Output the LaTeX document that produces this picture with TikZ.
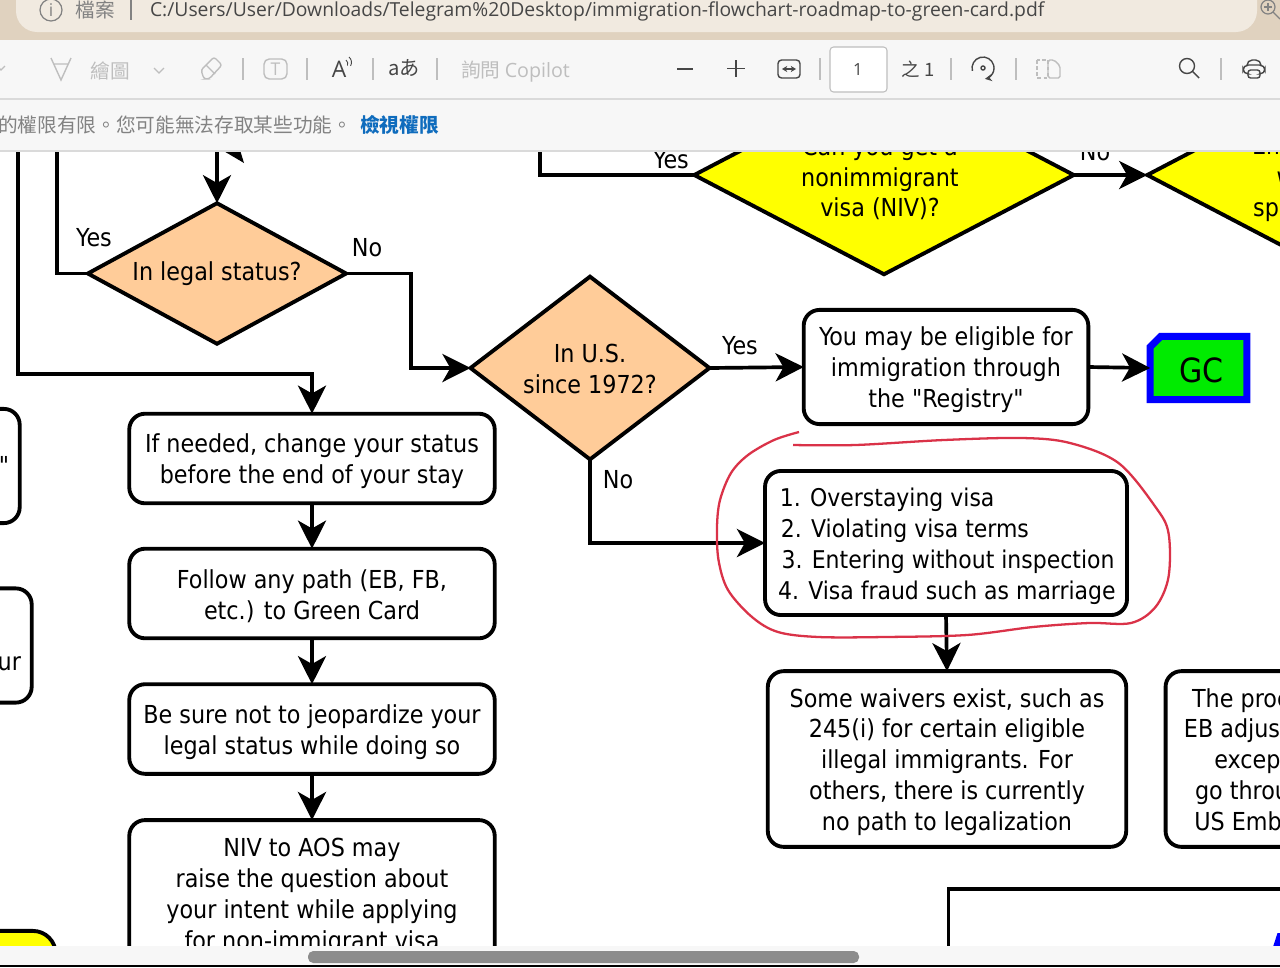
\documentclass[tikz,border=0pt]{standalone}
\usepackage{fontspec}
\setmainfont{DejaVu Sans Condensed}
\newfontfamily\uifont{Open Sans}
\newfontfamily\cjkfont{Noto Sans CJK TC}
\usetikzlibrary{shapes.geometric, shapes.misc, arrows.meta}
\definecolor{barbeige}{RGB}{224, 210, 191}
\definecolor{pillbeige}{RGB}{241, 234, 224}
\definecolor{uibar}{RGB}{247, 247, 247}
\definecolor{uiline}{RGB}{218, 218, 218}
\definecolor{uidark}{RGB}{70, 70, 70}
\definecolor{uifaint}{RGB}{190, 190, 190}
\definecolor{uimid}{RGB}{130, 130, 130}
\definecolor{linkblue}{RGB}{15, 108, 189}
\definecolor{thumbgray}{RGB}{140, 140, 140}
\definecolor{decisionorange}{RGB}{255, 204, 153}
\definecolor{choiceyellow}{RGB}{255, 255, 0}
\definecolor{penred}{RGB}{218, 50, 72}
\definecolor{cardgreen}{RGB}{0, 235, 0}
\newcommand{\boxdrop}{\rule{0pt}{14.2pt}}

\begin{document}
\begin{tikzpicture}[
  x=0.02cm, y=-0.02cm,
  font=\fontsize{14.1pt}{17.6pt}\selectfont,
  every node/.style={inner sep=0pt, outer sep=0pt},
  stepbox/.style={draw=black, fill=white, line width=2.2pt, rounded corners=9pt, align=center, minimum width=208pt, minimum height=51pt},
  orangechoice/.style={diamond, draw=black, fill=decisionorange, line width=2.2pt, align=center},
  yellowchoice/.style={diamond, draw=black, fill=choiceyellow, line width=2.2pt, shape aspect=1.9, minimum width=216pt, minimum height=113pt},
  flow/.style={line width=2.1pt, ->},
  flowplain/.style={line width=2.1pt},
  uisep/.style={line width=0.7pt, uifaint},
  uitext/.style={font=\uifont\fontsize{11pt}{14pt}\selectfont, text=uidark},
  cjktext/.style={font=\cjkfont\fontsize{11.2pt}{14pt}\selectfont, text=uimid},
  >={Stealth[length=16pt, width=16pt, inset=4.5pt]}
]
\clip (0,0) rectangle (1280,967);
\fill[white] (0,0) rectangle (1280,967);

\node[orangechoice, shape aspect=1.83, minimum width=147pt, minimum height=80pt] (legal) at (217,273.5) {In legal status?};
\node[orangechoice, shape aspect=1.3, minimum width=136pt, minimum height=104pt] (since) at (590,368) {\rule{0pt}{12pt}In U.S.\\since 1972?};
\node[yellowchoice] (visa) at (884,175) {};
\node[align=center] (visatext) at (880,178.5) {Can you get a\\nonimmigrant\\visa (NIV)?};
\node[yellowchoice] (sponsor) at (1337,175) {};
\node[align=center] (sponsortext) at (1327,178.5) {Employer will\\willing to\\sponsor you?};
\node[stepbox] (change) at (312,458.5) {\boxdrop If needed, change your status\\before the end of your stay};
\node[stepbox] (follow) at (312,593.5) {\boxdrop Follow any path (EB, FB,\\etc.) to Green Card};
\node[stepbox] (jeopardize) at (312,729) {\boxdrop Be sure not to jeopardize your\\legal status while doing so};
\node[stepbox, minimum height=83pt] (nivaos) at (312,893) {\boxdrop NIV to AOS may\\raise the question about\\your intent while applying\\for non-immigrant visa};
\node[stepbox, minimum width=162pt, minimum height=65pt] (registry) at (946,367) {\boxdrop You may be eligible for\\immigration through\\the \textquotedbl Registry\textquotedbl};
\node[stepbox, align=left, minimum width=206pt, minimum height=82pt, font=\fontsize{13.9pt}{17.6pt}\selectfont] (overstay) at (946,543) {\boxdrop\hspace{2pt}1. Overstaying visa\\\hspace{2.6pt}2. Violating visa terms\\\hspace{3pt}3. Entering without inspection\\\hspace{1pt}4. Visa fraud such as marriage};
\node[stepbox, minimum width=204pt, minimum height=100pt] (waivers) at (947,759) {\boxdrop Some waivers exist, such as\\245(i) for certain eligible\\illegal immigrants. For\\others, there is currently\\no path to legalization};
\node[stepbox, minimum width=128pt, minimum height=100pt] (process) at (1278,759) {\boxdrop The process for\\EB adjustment is\\except that\\go through the\\US Embassy or};
\node[chamfered rectangle, chamfered rectangle corners=north west, chamfered rectangle sep=3pt, draw=blue, fill=cardgreen, line width=4pt, minimum width=55pt, minimum height=36pt, font=\fontsize{19pt}{22pt}\selectfont] (gc) at (1198.5,368) {\rule{0pt}{17pt}\,GC};
\node[stepbox, minimum width=200pt, minimum height=65pt] (leftupper) at (-156,466) {};
\node[anchor=east] (leftuppertext) at (9,465) {\textquotedbl};
\node[stepbox, minimum width=200pt, minimum height=65pt] (leftlower) at (-144,645.5) {};
\node[anchor=east] (leftlowertext) at (21,664) {ur};
\node[stepbox, fill=choiceyellow, minimum width=200pt, minimum height=65pt, rounded corners=13pt] (leftyellow) at (-120,988) {};
\node[draw=black, fill=white, line width=2.2pt, minimum width=300pt, minimum height=120pt] (lowerpanel) at (1212,994) {};
\fill[blue] (1272,950) -- (1277.5,933) -- (1282,933) -- (1282,950) -- cycle;

\coordinate (entryouter) at (18,140);
\coordinate (bendouter) at (18,374);
\coordinate (entryyes) at (57,140);
\coordinate (entrytop) at (217,140);
\coordinate (entryvisa) at (540,140);
\coordinate (bendlegal) at (411,273.5);
\draw[flow] (entryouter) -- (bendouter) -| (change.north);
\draw[flowplain] (entryyes) |- (legal.west);
\draw[flow] (entrytop) -- (legal.north);
\draw[flowplain] (entryvisa) |- (visa.west);
\draw[flow] (visa.east) -- (sponsor.west);
\draw[flow] (legal.east) -- (bendlegal) |- (since.west);
\draw[flow] (since.east) -- (registry.west);
\draw[flow] (registry.east) -- (gc.west);
\draw[flow] (since.south) |- (overstay.west);
\draw[flow] (overstay.south) -- (waivers.north);
\draw[flow] (change.south) -- (follow.north);
\draw[flow] (follow.south) -- (jeopardize.north);
\draw[flow] (jeopardize.south) -- (nivaos.north);
\fill (222,150) -- (240,150) -- (244,163) -- cycle;

\node (yeslegal) at (94,237.5) {Yes};
\node (nolegal) at (367,248) {No};
\node (yessince) at (740,346) {Yes};
\node (nosince) at (618,480) {No};
\node (yesvisa) at (671,160) {Yes};
\node (novisa) at (1095,152) {No};

\draw[penred, line width=1.3pt] plot[smooth, tension=0.55] coordinates {(799,432) (774,440) (748,455) (731,473) (720,500) (717,527) (718.5,560) (728,590) (752,617) (778,632) (818.5,637) (885,637) (967,635) (1033,627) (1089,623) (1131,623) (1155.5,607) (1168.5,577) (1168.5,533) (1155.5,507) (1118.5,463) (1070,443) (1022,438) (944,440) (855.5,445) (793,445)};

\fill[barbeige] (0,0) rectangle (1280,40);
\fill[pillbeige, rounded corners=12pt] (16,-30) rectangle (1257,32);
\fill[uibar] (0,40) rectangle (1280,151);
\draw[uiline, line width=0.8pt] (0,99) -- (1280,99);
\draw[uiline, line width=1pt] (0,151) -- (1280,151);
\fill[uibar] (0,946) rectangle (1280,965);
\fill[thumbgray, rounded corners=3pt] (308,951) rectangle (859,963);
\fill[black] (0,965) rectangle (1280,966.5);
\fill[white] (0,966.5) rectangle (1280,967);

\draw[uimid, line width=0.7pt] (51,10) circle (11);
\node[uitext, text=uimid, font=\uifont\fontsize{10pt}{12pt}\selectfont] (infoi) at (51,10) {i};
\node[cjktext] (filelabel) at (95,10) {檔案};
\draw[uisep, uimid] (131,0) -- (131,20);
\node[uitext, anchor=west] (urltext) at (150,11) {C:/Users/User/Downloads/Telegram\%20Desktop/immigration-flowchart-roadmap-to-green-card.pdf};
\draw[uimid, line width=0.7pt] (1268,7) circle (7);
\draw[uimid, line width=0.7pt] (1273,12) -- (1280,19);
\draw[uimid, line width=0.6pt] (1264,7) -- (1272,7) (1268,3) -- (1268,11);

\draw[uifaint, line width=0.7pt] (-3,66) -- (1,70) -- (5,66);
\draw[uifaint, line width=0.8pt] (51,58) -- (61,80) -- (71,58) (54,64) -- (68,64);
\node[cjktext, text=uifaint] (drawlabel) at (110,71) {繪圖};
\draw[uifaint, line width=0.7pt] (154,68) -- (159,73) -- (164,68);
\draw[uifaint, line width=0.8pt, rounded corners=1.5pt] (201,70) -- (214,57) -- (222,65) -- (209,79) -- (204,79) -- cycle (206,65) -- (215,74);
\draw[uisep] (243,58) -- (243,80);
\draw[uifaint, line width=0.8pt, rounded corners=3pt] (264,59) rectangle (287,79);
\node[font=\uifont\fontsize{10pt}{12pt}\selectfont, text=uifaint] (tlabel) at (275.5,69) {T};
\draw[uisep] (307,58) -- (307,80);
\node[uitext, font=\uifont\fontsize{13pt}{14pt}\selectfont] (readlabel) at (339,69) {A};
\draw[uidark, line width=0.5pt] (346,60) arc (-50:20:5) (349,57) arc (-50:30:7);
\draw[uisep] (373,58) -- (373,80);
\node[uitext, font=\cjkfont\fontsize{11.5pt}{14pt}\selectfont] (translabel) at (404,68) {aあ};
\draw[uisep] (437,58) -- (437,80);
\node[cjktext, text=uifaint, anchor=west] (copilotlabel) at (461,72) {詢問 {\uifont Copilot}};

\draw[uidark, line width=0.8pt] (677,69) -- (693,69);
\draw[uidark, line width=0.8pt] (727,68.5) -- (745,68.5) (736,60) -- (736,77);
\draw[uidark, line width=0.8pt, rounded corners=2pt] (778,60) rectangle (800,78);
\draw[uidark, line width=0.7pt, <->, >={Stealth[length=3pt, width=3.5pt]}] (782,69) -- (796,69);
\draw[uisep] (820,58) -- (820,80);
\draw[uifaint, fill=white, line width=0.6pt, rounded corners=2pt] (830,47) rectangle (887,92);
\node[uitext, font=\uifont\fontsize{9.5pt}{12pt}\selectfont] (pagenumber) at (858,70) {1};
\node[uitext, font=\cjkfont\fontsize{10.5pt}{12pt}\selectfont] (pagetotal) at (918,69) {之 1};
\draw[uisep] (951,58) -- (951,80);
\draw[uidark, line width=0.8pt, ->, >={Stealth[length=4pt, width=4pt]}] (972.4,70.9) arc (165:440:11);
\draw[uidark, line width=0.8pt] (983,68) circle (2);
\draw[uisep] (1016,58) -- (1016,80);
\draw[uifaint, line width=0.8pt, dash pattern=on 2pt off 1.5pt] (1037,60) rectangle (1048,78);
\draw[uifaint, line width=0.8pt, rounded corners=1pt] (1048,60) -- (1054,60) -- (1060,66) -- (1060,78) -- (1048,78) -- cycle;
\draw[uidark, line width=0.8pt] (1187,66) circle (7.5);
\draw[uidark, line width=0.8pt] (1192.5,71.5) -- (1199,78);
\draw[uisep] (1221,58) -- (1221,80);
\draw[uidark, line width=0.8pt, rounded corners=3pt] (1247,66) -- (1247,60) -- (1261,60) -- (1261,66);
\draw[uidark, line width=0.8pt, rounded corners=3pt] (1248,74) -- (1243,74) -- (1243,65) -- (1265,65) -- (1265,74) -- (1260,74);
\draw[uidark, line width=0.8pt, rounded corners=1.5pt] (1248,70) rectangle (1260,78);

\node[cjktext, anchor=west] (noticetext) at (-2,125) {的權限有限。您可能無法存取某些功能。};
\node[cjktext, anchor=west, text=linkblue, font=\cjkfont\bfseries\fontsize{11.2pt}{14pt}\selectfont] (noticelink) at (360,125) {檢視權限};
\end{tikzpicture}
\end{document}
